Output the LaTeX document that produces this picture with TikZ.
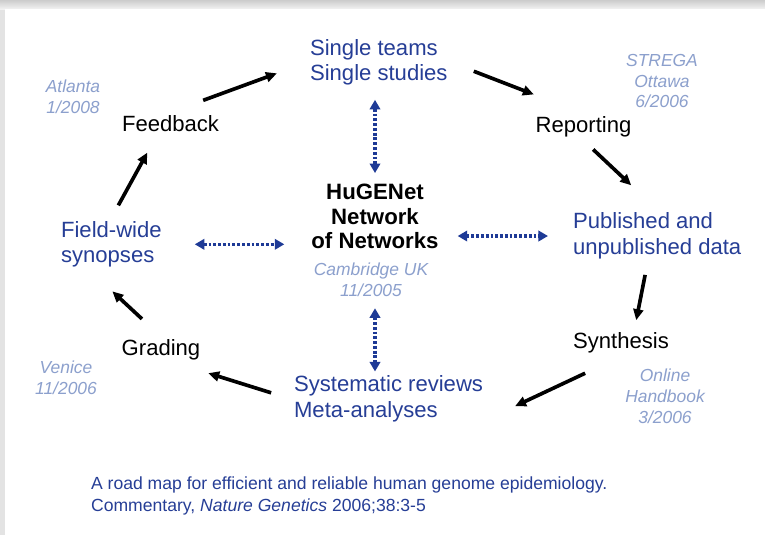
\documentclass[tikz,border=0pt]{standalone}
\usepackage{fontspec}
\setmainfont{Liberation Sans}
\usetikzlibrary{arrows.meta}
\definecolor{hublue}{RGB}{38,62,150}
\definecolor{paleblue}{RGB}{140,160,205}
\definecolor{linkblue}{RGB}{30,58,150}
\tikzset{
every node/.style={inner sep=2pt},
stage/.style={ % black stages of the cycle
font=\fontsize{15.7}{18.4}\selectfont},
goal/.style={ % blue stages, left aligned
font=\fontsize{15.7}{18.4}\selectfont,
text=hublue, align=left, anchor=west},
place/.style={ % meeting places and dates
font=\fontsize{12.4}{14.9}\selectfont\itshape,
text=paleblue, align=center},
flow/.style={ % black cycle arrows
draw, -{Triangle[length=7.8pt,width=7pt]},
line width=2.6pt},
link/.style={ % dotted links to the hub
draw, linkblue, {Triangle[length=6.8pt,width=7.4pt]}-{Triangle[length=6.8pt,width=7.4pt]},
line width=2.2pt, dash pattern=on 2pt off 1.4pt}}

\begin{document}
\begin{tikzpicture}[x=0.025cm, y=-0.025cm]
\useasboundingbox (0,0) rectangle (765,535);
\fill[gray!22] (0,0) rectangle (765,535);
\shade[top color=gray!40, bottom color=gray!10] (0,0) rectangle (765,9);
\fill[white] (5,9) rectangle (765,535);

\node[goal] (single) at (307,62.3) {Single teams\\Single studies};
\node[stage] (rep) at (583.5,127) {Reporting};
\node[goal] (pub) at (570,236) {Published and\\unpublished data};
\node[stage] (synth) at (621,343) {Synthesis};
\node[goal] (sys) at (291,399) {Systematic reviews\\Meta-analyses};
\node[stage] (grade) at (161,350) {Grading};
\node[goal] (field) at (58,244.3) {Field-wide\\synopses};
\node[stage] (feed) at (170.5,123.5) {Feedback};
\node[align=center, font=\fontsize{15.8}{17.4}\selectfont\bfseries] (hub) at (375,216.5) {HuGENet\\Network\\of Networks};
\node[place] (cam) at (371,279.5) {Cambridge UK\\11/2005};
\node[place] (atl) at (73,97) {Atlanta\\1/2008};
\node[place] (ott) at (662,81) {STREGA\\Ottawa\\6/2006};
\node[place] (ven) at (66,378) {Venice\\11/2006};
\node[place] (onl) at (665,396) {Online\\Handbook\\3/2006};
\node[anchor=west, align=left, text=hublue, font=\fontsize{12.5}{15.6}\selectfont] (note) at (88,496)
{A road map for efficient and reliable human genome epidemiology.\\Commentary, \textit{Nature Genetics} 2006;38:3-5};

\draw (feed.north) edge[flow, shorten <=0.87cm, shorten >=0.8cm] (single.west);
\draw (single.east) edge[flow, shorten <=0.62cm, shorten >=1.33cm] (rep.north);
\draw (rep.south) edge[flow, shorten <=0.33cm, shorten >=0.89cm] (pub.north);
\draw (pub.-110) edge[flow, shorten <=0.32cm, shorten >=0.24cm] (synth.45);
\draw (synth.south) edge[flow, shorten <=0.99cm, shorten >=0.8cm] (sys.-12);
\draw (sys.west) edge[flow, shorten <=0.52cm, shorten >=0.82cm] (grade.-40);
\draw (grade.north) edge[flow, shorten <=0.65cm, shorten >=0.76cm] (field.-129);
\draw (field.north) edge[flow, shorten <=0.36cm, shorten >=0.51cm] (feed.-140);

\draw (hub.north |- single.south) edge[link, shorten <=0.28cm, shorten >=0.2cm] (hub.north);
\draw (field.east) edge[link, shorten <=0.75cm, shorten >=0.6cm] (field.east -| hub.west);
\draw (hub.east |- pub.west) edge[link, shorten <=0.4cm, shorten >=0.55cm] (pub.west);
\draw (hub.south |- cam.south) edge[link, shorten <=0.22cm, shorten >=0.03cm] (hub.south |- sys.north);
\end{tikzpicture}
\end{document}
